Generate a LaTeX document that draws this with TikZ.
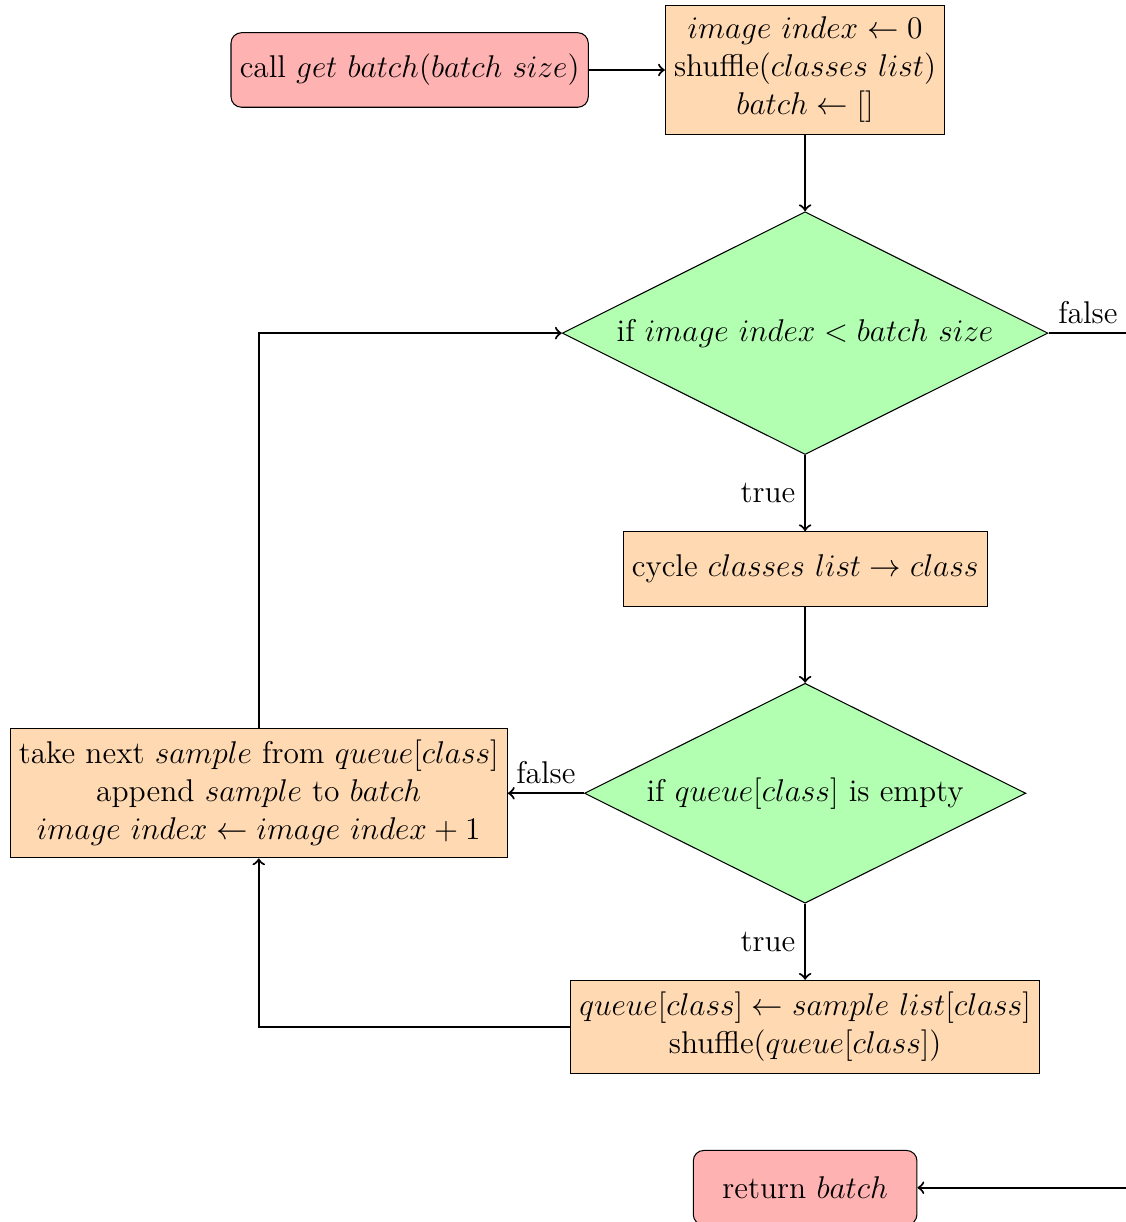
\documentclass[tikz,border=0pt]{standalone}
\usepackage{tikz}
\usetikzlibrary{positioning}
\usetikzlibrary{shapes.geometric}

\begin{document}
\begin{tikzpicture}[->, thick, node distance=1.02cm,
    font=\fontsize{12}{14.5}\selectfont,
    term/.style={draw, thin, rounded corners, fill=red!30,
                 minimum height=1cm, minimum width=3cm, align=center},
    proc/.style={draw, thin, fill=orange!30, minimum height=1cm,
                 inner ysep=4.5pt, align=center},
    test/.style={draw, thin, diamond, aspect=2, fill=green!30,
                 align=center}]
      \useasboundingbox (-10.80,0.939) rectangle (4.292,-15.453);

      \node[proc] (init) at (0,0)
           {$image\ index \leftarrow 0$\\
            shuffle($classes\ list$)\\
            $batch \leftarrow []$};
      \node[term, left=of init] (call)
           {call $get\ batch(batch\ size)$};
      \node[test, below=of init] (check-index)
           {if $image\ index < batch\ size$};
      \node[proc, below=of check-index] (cycle)
           {cycle $classes\ list \rightarrow class$};
      \node[test, below=of cycle, minimum width=5.92cm, minimum height=2.95cm]
           (check-queue) {if $queue[class]$ is empty};
      \node[proc, left=of check-queue] (take)
           {take next $sample$ from $queue[class]$\\
            append $sample$ to $batch$\\
            $image\ index \leftarrow image\ index + 1$};
      \node[proc, below=of check-queue] (refill)
           {$queue[class] \leftarrow sample\ list[class]$\\
            shuffle($queue[class]$)};
      \node[term, below=of refill] (ret) {return $batch$};

      \coordinate (side) at (4.32,0);

      \draw (call) -- (init);
      \draw (init) -- (check-index);
      \draw (check-index) -- node[left] {true} (cycle);
      \draw (cycle) -- (check-queue);
      \draw (check-queue) -- node[left] {true} (refill);
      \draw (check-queue) -- node[above] {false} (take);
      \draw (refill) -| (take);
      \draw (take) |- (check-index);
      \draw (check-index) -- node[above] {false} (side |- check-index)
           |- (ret);
\end{tikzpicture}
\end{document}
